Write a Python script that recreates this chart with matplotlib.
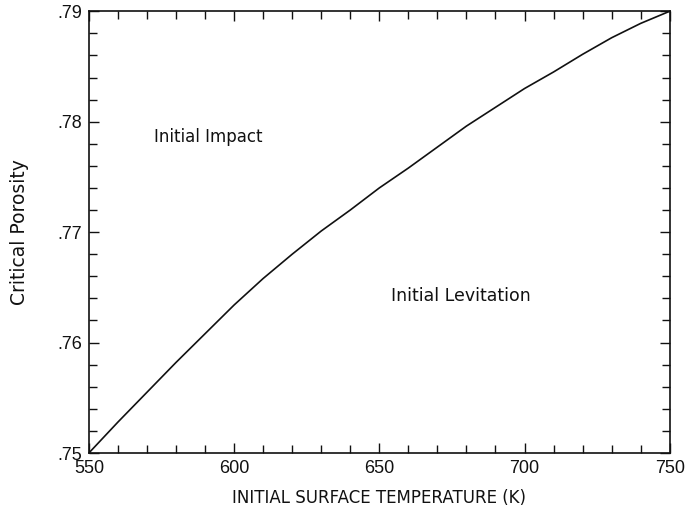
import matplotlib

matplotlib.use("Agg")

import matplotlib.pyplot as plt
from matplotlib.ticker import FuncFormatter, MultipleLocator

# Kritische Porosität über der Anfangs-Oberflächentemperatur
temperature_k = [550, 560, 570, 580, 590, 600, 610, 620, 630, 640, 650,
                 660, 670, 680, 690, 700, 710, 720, 730, 740, 750]
critical_porosity = [0.7500, 0.7528, 0.7555, 0.7582, 0.7608, 0.7634, 0.7658,
                     0.7680, 0.7701, 0.7720, 0.7740, 0.7758, 0.7777, 0.7796,
                     0.7813, 0.7830, 0.7845, 0.7861, 0.7876, 0.7889, 0.7900]

x_major = [550, 600, 650, 700, 750]
y_major = [0.75, 0.76, 0.77, 0.78, 0.79]

region_labels = ["Initial Impact", "Initial Levitation"]
region_pos = [(591, 0.7786), (678, 0.7642)]

INK = "#111111"
TICK_FONT = ["Liberation Sans", "DejaVu Sans"]
LABEL_FONT = ["DejaVu Sans"]

fig = plt.figure(figsize=(6.89, 5.11), dpi=100)
ax = fig.add_axes([0.129, 0.1135, 0.843, 0.8645])

ax.plot(temperature_k, critical_porosity, color=INK, linewidth=1.2)

ax.set_xlim(550, 750)
ax.set_ylim(0.75, 0.79)

ax.set_xticks(x_major)
ax.set_yticks(y_major)
ax.xaxis.set_minor_locator(MultipleLocator(10))
ax.yaxis.set_minor_locator(MultipleLocator(0.002))
ax.yaxis.set_major_formatter(
    FuncFormatter(lambda v, _: f"{v:.2f}".lstrip("0")))

ax.tick_params(which="both", direction="in", top=True, right=True,
               colors=INK, width=1.0)
ax.tick_params(which="major", length=7, labelsize=13, pad=5)
ax.tick_params(which="minor", length=6)
for lbl in ax.get_xticklabels() + ax.get_yticklabels():
    lbl.set_family(TICK_FONT)

for side in ax.spines.values():
    side.set_linewidth(1.2)
    side.set_color(INK)

for text, (tx, ty) in zip(region_labels, region_pos):
    fs = 12 if text == "Initial Impact" else 12.5
    ax.text(tx, ty, text, ha="center", va="center", fontsize=fs, color=INK,
            family=LABEL_FONT)

ax.set_xlabel("INITIAL SURFACE TEMPERATURE (K)", fontsize=12, color=INK,
              labelpad=9, family=LABEL_FONT)
ax.set_ylabel("Critical Porosity", fontsize=13.5, color=INK, labelpad=20,
              family=LABEL_FONT)

fig.savefig("out.png", dpi=100, facecolor="white")
